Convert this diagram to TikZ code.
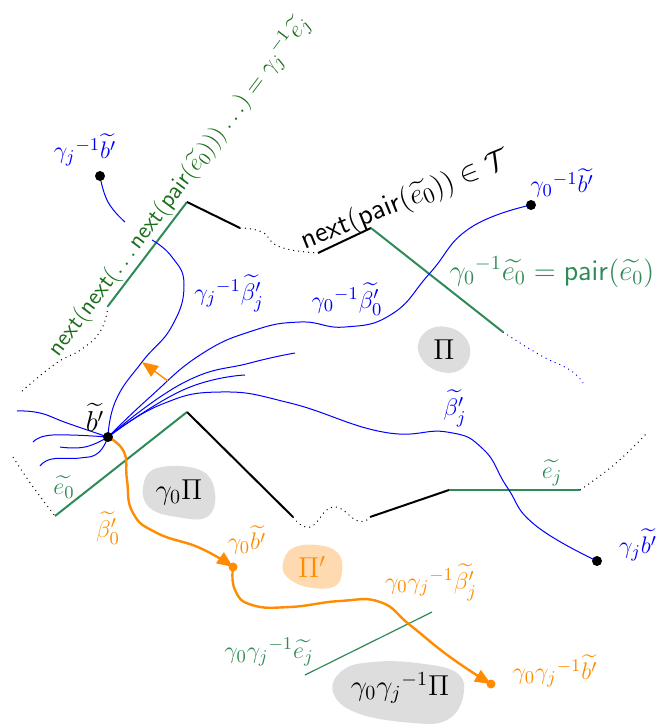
\documentclass[tikz,border=0pt]{standalone}
\usepackage{amsmath,amssymb}
\usetikzlibrary{arrows.meta}
\definecolor{sgreen}{RGB}{46,139,87}
\definecolor{dgreen}{RGB}{25,110,25}
\definecolor{myorange}{RGB}{255,140,0}
\definecolor{blobgray}{RGB}{221,221,221}
\definecolor{bloborange}{RGB}{255,218,176}
\tikzset{
  grnline/.style={draw=sgreen,line width=1pt},
  blkline/.style={draw=black,line width=1pt},
  dotline/.style={draw=black,dotted,line width=0.5pt},
  bluedots/.style={draw=blue,dotted,line width=0.5pt},
  bcurve/.style={draw=blue,line width=0.5pt},
  ocurve/.style={draw=myorange,line width=1.2pt},
  otip/.style={-{Triangle[length=8pt,width=6.5pt]}},
  blob/.style={fill=blobgray},
  oblob/.style={fill=bloborange},
  lbl/.style={font=\fontsize{13}{15}\selectfont,inner sep=1pt},
  biglbl/.style={font=\fontsize{14}{16}\selectfont,inner sep=1pt},
  bigdot/.style={circle,fill=black,inner sep=0pt,minimum size=5pt},
  odot/.style={circle,fill=myorange,inner sep=0pt,minimum size=4.5pt},
  sm/.style={smooth,tension=0.8},
}
\begin{document}
\begin{tikzpicture}[x=0.5pt,y=-0.5pt]
\useasboundingbox (0,0) rectangle (658,725);

% blobs
\fill[blob] plot[smooth cycle,tension=0.7] coordinates {(418,345) (428,330) (447,327) (465,337) (470,355) (460,370) (441,372) (424,362)};
\fill[blob] plot[smooth cycle,tension=0.7] coordinates {(143,487) (157,468) (200,470) (215,493) (207,517) (177,517) (150,508)};
\fill[oblob] plot[smooth cycle,tension=0.7] coordinates {(283,563) (293,548) (317,545) (338,553) (342,573) (333,587) (307,587) (287,577)};
\fill[blob] plot[smooth cycle,tension=0.7] coordinates {(333,692) (343,670) (373,662) (417,663) (457,673) (463,697) (447,720) (413,723) (357,713)};

% key points
\coordinate (b) at (108,437);
\coordinate (gjb) at (100,176);
\coordinate (g0ib) at (531,205);
\coordinate (gjbt) at (597,561);
\coordinate (g0b) at (233,567);
\coordinate (g0gjb) at (491,684);

% upper chain
\coordinate (u1) at (108,306);
\coordinate (u2) at (187,202);
\coordinate (u3) at (240,228);
\coordinate (u4) at (318,253);
\coordinate (u5) at (371,228);
\coordinate (u6) at (503,332);
\coordinate (u7) at (583,383);
\coordinate (ul) at (20,393);
\draw[dotline] plot[sm] coordinates {(u1) (101,330) (82,349) (55,364) (ul)};
\draw[grnline] (u1) -- (u2);
\draw[blkline] (u2) -- (u3);
\draw[dotline] plot[sm] coordinates {(u3) (262,232) (280,247) (u4)};
\draw[blkline] (u4) -- (u5);
\draw[grnline] (u5) -- (u6);
\draw[bluedots] plot[sm] coordinates {(u6) (540,355) (570,370) (u7)};

% lower chain
\coordinate (l0) at (13,457);
\coordinate (l1) at (55,516);
\coordinate (l2) at (187,412);
\coordinate (l3) at (293,517);
\coordinate (l4) at (370,517);
\coordinate (l5) at (449,490);
\coordinate (l6) at (580,490);
\coordinate (l7) at (648,432);
\draw[dotline] plot[sm] coordinates {(l0) (31,484) (l1)};
\draw[grnline] (l1) -- (l2);
\draw[blkline] (l2) -- (l3);
\draw[dotline] plot[sm] coordinates {(l3) (310,527) (333,507) (358,521) (l4)};
\draw[blkline] (l4) -- (l5);
\draw[grnline] (l5) -- (l6);
\draw[dotline] plot[sm] coordinates {(l6) (615,464) (l7)};

% thin green segment
\coordinate (gl1) at (305,675);
\coordinate (gl2) at (432,612);
\draw[draw=sgreen,line width=0.6pt] (gl1) -- (gl2);

% blue curves
\draw[bcurve] plot[sm] coordinates {(b) (116,400) (142,362) (172,326) (184,285) (172,257) (152,240)};
\draw[bcurve] plot[sm] coordinates {(125,222) (108,202) (gjb)};
\draw[bcurve] plot[sm] coordinates {(b) (150,397) (200,355) (252,331) (300,322) (345,327) (392,314) (430,273) (470,228) (g0ib)};
\draw[bcurve] plot[sm] coordinates {(b) (183,383) (250,363) (295,353)};
\draw[bcurve] plot[sm] coordinates {(b) (183,390) (245,375)};
\draw[bcurve] plot[sm] coordinates {(b) (160,405) (220,392) (290,403) (383,432) (447,432) (483,449) (507,487) (535,525) (gjbt)};
\draw[bcurve] plot[sm] coordinates {(17,411) (40,413) (67,423) (b)};
\draw[bcurve] plot[sm] coordinates {(33,442) (45,436) (70,435) (b)};
\draw[bcurve] plot[sm] coordinates {(60,447) (85,447) (b)};
\draw[bcurve] plot[sm] coordinates {(40,466) (52,459) (80,458) (98,453) (b)};

% orange curves
\coordinate (oa1) at (168,381);
\coordinate (oa2) at (142,362);
\draw[draw=myorange,line width=0.7pt,otip] (oa1) -- (oa2);
\draw[ocurve,otip] plot[sm] coordinates {(b) (124,452) (127,480) (133,513) (157,533) (200,548) (g0b)};
\draw[ocurve,otip] plot[sm] coordinates {(g0b) (235,590) (252,605) (290,607) (340,601) (380,602) (410,625) (450,657) (g0gjb)};

% dots
\node[bigdot] (db) at (b) {};
\node[bigdot] (dgjb) at (gjb) {};
\node[bigdot] (dg0ib) at (g0ib) {};
\node[bigdot] (dgjbt) at (gjbt) {};
\node[odot] (dg0b) at (g0b) {};
\node[odot] (dg0gjb) at (g0gjb) {};

% labels
\node[lbl,text=blue] (tgjb) at (85,150) {${\gamma_j}^{-1}\widetilde{b'}$};
\node[lbl,text=blue] (tg0ib) at (562,183) {${\gamma_0}^{-1}\widetilde{b'}$};
\node[lbl,text=blue] (tgjbt) at (638,545) {$\gamma_j\widetilde{b'}$};
\node[lbl,text=blue] (tbetaj1) at (229,293) {${\gamma_j}^{-1}\widetilde{\beta'_j}$};
\node[lbl,text=blue] (tbeta01) at (347,299) {${\gamma_0}^{-1}\widetilde{\beta'_0}$};
\node[lbl,text=blue] (tbetaj) at (455,408) {$\widetilde{\beta'_j}$};
\node[biglbl] (tb) at (95,417) {$\widetilde{b'}$};
\node[lbl,text=sgreen] (te0) at (64,487) {$\widetilde{e_0}$};
\node[lbl,text=sgreen] (tej) at (552,473) {$\widetilde{e_j}$};
\node[font=\fontsize{14.5}{16}\selectfont,inner sep=1pt,text=sgreen] (tpair) at (552,272) {${\gamma_0}^{-1}\widetilde{e_0}=\mathsf{pair}(\widetilde{e_0})$};
\node[lbl,text=sgreen] (tg0gjej) at (269,652) {$\gamma_0{\gamma_j}^{-1}\widetilde{e_j}$};
\node[biglbl] (tPi) at (444,350) {$\Pi$};
\node[biglbl] (tg0Pi) at (179,492) {$\gamma_0\Pi$};
\node[biglbl,text=myorange] (tPip) at (312,567) {$\Pi'$};
\node[biglbl] (tg0gjPi) at (400,688) {$\gamma_0{\gamma_j}^{-1}\Pi$};
\node[lbl,text=myorange] (tbeta0) at (108,528) {$\widetilde{\beta'_0}$};
\node[lbl,text=myorange] (tg0b) at (247,540) {$\gamma_0\widetilde{b'}$};
\node[lbl,text=myorange] (tg0gjbeta) at (431,582) {$\gamma_0{\gamma_j}^{-1}\widetilde{\beta'_j}$};
\node[lbl,text=myorange] (tg0gjb) at (555,671) {$\gamma_0{\gamma_j}^{-1}\widetilde{b'}$};
\node[font=\fontsize{15}{17}\selectfont,inner sep=1pt,rotate=22] (tnext) at (405,201) {$\mathsf{next}(\mathsf{pair}(\widetilde{e_0}))\in\mathcal{T}$};
\node[lbl,text=dgreen,rotate=53] (tnextn) at (179,186) {$\mathsf{next}(\mathsf{next}(\ldots\mathsf{next}(\mathsf{pair}(\widetilde{e_0})))\ldots)={\gamma_j}^{-1}\widetilde{e_j}$};
\end{tikzpicture}
\end{document}
